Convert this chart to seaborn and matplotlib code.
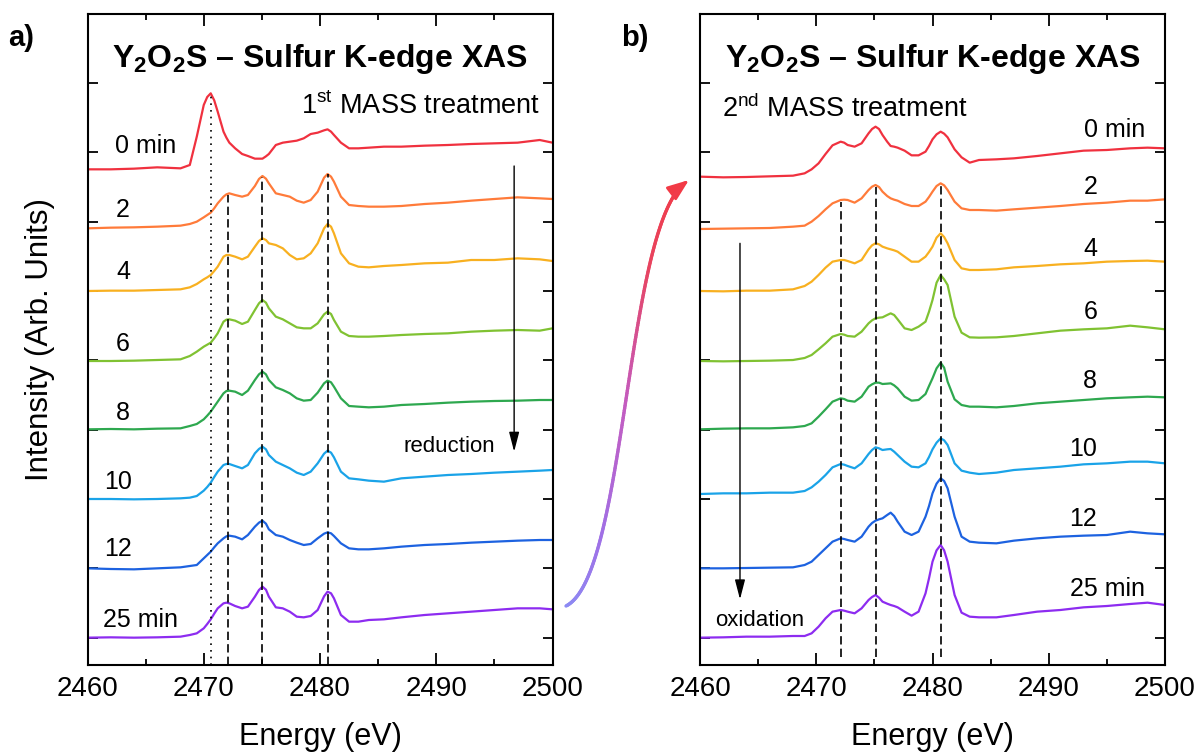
import numpy as np
import pandas as pd
import matplotlib
matplotlib.use("Agg")
import matplotlib.pyplot as plt
from matplotlib.collections import LineCollection
from matplotlib.colors import LinearSegmentedColormap
from matplotlib.patches import FancyArrowPatch
from matplotlib.ticker import MultipleLocator
import seaborn as sns

# ---------------------------------------------------------------------------
# Sulfur K-edge XAS of Y2O2S, stacked spectra (arb. units, offset per scan)
# ---------------------------------------------------------------------------
times = ["0 min", "2", "4", "6", "8", "10", "12", "25 min"]
colors = ["#f0313f", "#ff7b3a", "#f8b020", "#80c232", "#2ea84f",
          "#1aa3e8", "#1d62e0", "#8d2cf0"]

# 1st MASS treatment
energy_a = [2460, 2462, 2464, 2466, 2468, 2468.8, 2469.4, 2470.0,
            2470.3, 2470.6, 2470.9, 2471.2, 2471.7, 2471.95, 2472.2, 2472.7,
            2473.3, 2473.8, 2474.4, 2474.75, 2475.05, 2475.35, 2475.6, 2476.2,
            2476.8, 2477.4, 2478.0, 2478.6, 2479.2, 2479.8, 2480.35, 2480.65,
            2480.95, 2481.2, 2481.8, 2482.5, 2483.3, 2484.2, 2485.5, 2487,
            2489, 2491, 2493, 2495, 2497, 2498.9, 2500]
a_0min = [14.05, 14.05, 14.07, 14.11, 14.08, 14.18, 15.03, 15.98,
          16.22, 16.33, 16.12, 15.78, 15.18, 15.00, 14.85, 14.68,
          14.51, 14.45, 14.37, 14.37, 14.37, 14.44, 14.51, 14.78,
          14.85, 14.88, 14.91, 14.98, 15.11, 15.15, 15.22, 15.25,
          15.18, 15.08, 14.85, 14.68, 14.68, 14.70, 14.73, 14.73,
          14.76, 14.78, 14.81, 14.83, 14.85, 14.93, 14.85]
a_2min = [12.28, 12.30, 12.31, 12.33, 12.36, 12.41, 12.48, 12.61,
          12.68, 12.75, 12.88, 13.03, 13.23, 13.30, 13.33, 13.28,
          13.23, 13.28, 13.55, 13.76, 13.85, 13.77, 13.63, 13.33,
          13.28, 13.23, 13.11, 13.05, 13.13, 13.38, 13.80, 13.91,
          13.83, 13.68, 13.23, 12.98, 12.95, 12.93, 12.93, 12.95,
          13.01, 13.05, 13.11, 13.16, 13.21, 13.18, 13.16]
a_4min = [10.40, 10.41, 10.41, 10.43, 10.45, 10.51, 10.61, 10.75,
          10.81, 10.88, 11.00, 11.13, 11.43, 11.48, 11.48, 11.43,
          11.35, 11.43, 11.73, 11.90, 11.98, 11.93, 11.83, 11.78,
          11.68, 11.48, 11.35, 11.38, 11.53, 11.83, 12.28, 12.41,
          12.33, 12.13, 11.53, 11.23, 11.13, 11.11, 11.15, 11.18,
          11.23, 11.25, 11.33, 11.33, 11.38, 11.35, 11.30]
a_6min = [8.30, 8.30, 8.31, 8.33, 8.35, 8.45, 8.58, 8.73,
          8.79, 8.85, 8.98, 9.13, 9.48, 9.54, 9.55, 9.51,
          9.41, 9.48, 9.83, 10.03, 10.13, 10.05, 9.88, 9.63,
          9.55, 9.43, 9.31, 9.28, 9.28, 9.43, 9.70, 9.78,
          9.71, 9.53, 9.18, 9.05, 9.03, 9.03, 9.05, 9.08,
          9.11, 9.13, 9.18, 9.21, 9.23, 9.21, 9.28]
a_8min = [6.25, 6.26, 6.25, 6.27, 6.28, 6.35, 6.41, 6.55,
          6.66, 6.78, 6.93, 7.08, 7.33, 7.40, 7.41, 7.38,
          7.28, 7.41, 7.73, 7.90, 7.98, 7.90, 7.73, 7.51,
          7.43, 7.33, 7.18, 7.11, 7.13, 7.35, 7.63, 7.71,
          7.66, 7.53, 7.18, 6.95, 6.93, 6.91, 6.93, 6.98,
          7.01, 7.05, 7.08, 7.10, 7.11, 7.13, 7.13]
a_10min = [4.16, 4.16, 4.15, 4.16, 4.18, 4.20, 4.25, 4.41,
           4.52, 4.65, 4.82, 4.98, 5.18, 5.21, 5.21, 5.15,
           5.08, 5.18, 5.53, 5.66, 5.73, 5.65, 5.48, 5.28,
           5.18, 5.08, 4.95, 4.88, 4.98, 5.23, 5.52, 5.61,
           5.55, 5.41, 4.98, 4.78, 4.75, 4.71, 4.68, 4.78,
           4.83, 4.88, 4.91, 4.95, 4.98, 5.01, 5.03]
a_12min = [2.08, 2.06, 2.05, 2.08, 2.11, 2.15, 2.18, 2.38,
           2.48, 2.58, 2.71, 2.83, 2.98, 3.04, 3.06, 3.03,
           2.95, 3.08, 3.33, 3.45, 3.51, 3.42, 3.25, 3.08,
           3.03, 2.93, 2.85, 2.78, 2.81, 2.98, 3.12, 3.16,
           3.13, 3.05, 2.83, 2.68, 2.65, 2.65, 2.68, 2.73,
           2.78, 2.81, 2.85, 2.88, 2.91, 2.93, 2.93]
a_25min = [0.00, 0.01, 0.00, 0.01, 0.03, 0.08, 0.13, 0.28,
           0.41, 0.55, 0.72, 0.88, 1.03, 1.05, 1.03, 0.95,
           0.88, 0.93, 1.23, 1.43, 1.53, 1.44, 1.23, 0.91,
           0.88, 0.78, 0.63, 0.61, 0.65, 0.83, 1.24, 1.38,
           1.33, 1.18, 0.68, 0.48, 0.48, 0.53, 0.55, 0.61,
           0.68, 0.73, 0.78, 0.83, 0.88, 0.88, 0.85]

# 2nd MASS treatment
energy_b = [2460, 2462, 2464, 2466, 2468, 2469, 2469.6, 2470.2,
            2470.8, 2471.4, 2472.1, 2472.4, 2472.7, 2473.3, 2473.9, 2474.5,
            2474.8, 2475.1, 2475.4, 2475.7, 2476.1, 2476.4, 2476.7, 2477.0,
            2477.6, 2478.2, 2478.8, 2479.4, 2479.7, 2480.0, 2480.35, 2480.7,
            2481.0, 2481.3, 2481.9, 2482.5, 2483.2, 2484, 2485.5, 2487,
            2489, 2491, 2493, 2495, 2497, 2498.5, 2500]
b_0min = [13.83, 13.81, 13.82, 13.84, 13.86, 13.93, 14.05, 14.23,
          14.51, 14.77, 14.88, 14.85, 14.78, 14.73, 14.83, 15.13,
          15.26, 15.33, 15.26, 15.08, 14.88, 14.75, 14.73, 14.70,
          14.61, 14.47, 14.47, 14.58, 14.75, 14.95, 15.10, 15.18,
          15.12, 15.01, 14.65, 14.41, 14.25, 14.33, 14.35, 14.38,
          14.45, 14.53, 14.61, 14.63, 14.68, 14.70, 14.68]
b_2min = [12.26, 12.27, 12.28, 12.29, 12.33, 12.36, 12.48, 12.65,
          12.85, 13.03, 13.13, 13.14, 13.13, 13.05, 13.18, 13.43,
          13.53, 13.58, 13.52, 13.38, 13.25, 13.18, 13.14, 13.11,
          13.01, 12.95, 12.95, 13.08, 13.22, 13.38, 13.55, 13.63,
          13.57, 13.43, 13.08, 12.88, 12.83, 12.83, 12.81, 12.85,
          12.90, 12.95, 13.01, 13.05, 13.11, 13.11, 13.15]
b_4min = [10.40, 10.39, 10.41, 10.41, 10.45, 10.55, 10.68, 10.88,
          11.10, 11.28, 11.33, 11.33, 11.30, 11.23, 11.33, 11.65,
          11.77, 11.83, 11.80, 11.73, 11.68, 11.65, 11.62, 11.58,
          11.43, 11.28, 11.28, 11.43, 11.57, 11.73, 12.00, 12.13,
          12.02, 11.83, 11.33, 11.08, 11.03, 11.03, 11.05, 11.11,
          11.15, 11.20, 11.23, 11.28, 11.30, 11.31, 11.28]
b_6min = [8.30, 8.29, 8.30, 8.31, 8.33, 8.39, 8.48, 8.65,
          8.83, 9.03, 9.11, 9.09, 9.05, 9.03, 9.18, 9.43,
          9.52, 9.58, 9.60, 9.61, 9.68, 9.73, 9.68, 9.55,
          9.28, 9.23, 9.33, 9.48, 9.78, 10.13, 10.65, 10.88,
          10.75, 10.58, 9.63, 9.15, 9.01, 9.00, 9.01, 9.05,
          9.13, 9.21, 9.25, 9.28, 9.36, 9.31, 9.25]
b_8min = [6.25, 6.27, 6.28, 6.28, 6.31, 6.35, 6.43, 6.63,
          6.85, 7.08, 7.18, 7.16, 7.11, 7.08, 7.23, 7.53,
          7.60, 7.65, 7.65, 7.61, 7.62, 7.63, 7.57, 7.48,
          7.23, 7.11, 7.13, 7.31, 7.55, 7.78, 8.08, 8.25,
          8.10, 7.68, 7.15, 6.98, 6.93, 6.93, 6.91, 6.95,
          7.03, 7.08, 7.13, 7.18, 7.21, 7.23, 7.21]
b_10min = [4.31, 4.33, 4.33, 4.35, 4.35, 4.40, 4.51, 4.68,
           4.88, 5.11, 5.21, 5.19, 5.15, 5.08, 5.23, 5.51,
           5.63, 5.71, 5.68, 5.63, 5.65, 5.66, 5.58, 5.48,
           5.28, 5.13, 5.11, 5.23, 5.42, 5.65, 5.85, 5.98,
           5.92, 5.78, 5.23, 5.01, 4.95, 4.91, 4.95, 5.03,
           5.08, 5.13, 5.20, 5.23, 5.28, 5.28, 5.23]
b_12min = [2.08, 2.08, 2.09, 2.10, 2.11, 2.18, 2.28, 2.48,
           2.68, 2.88, 2.98, 2.96, 2.93, 2.88, 3.03, 3.33,
           3.44, 3.51, 3.55, 3.58, 3.68, 3.75, 3.65, 3.48,
           3.18, 3.08, 3.18, 3.63, 3.95, 4.33, 4.62, 4.78,
           4.70, 4.48, 3.63, 3.03, 2.88, 2.85, 2.83, 2.91,
           2.98, 3.03, 3.06, 3.08, 3.18, 3.13, 3.10]
b_25min = [0.00, 0.01, 0.03, 0.03, 0.05, 0.05, 0.13, 0.33,
           0.58, 0.78, 0.83, 0.81, 0.78, 0.73, 0.88, 1.13,
           1.22, 1.28, 1.20, 1.08, 1.02, 0.98, 0.95, 0.91,
           0.78, 0.66, 0.78, 1.33, 1.78, 2.28, 2.62, 2.78,
           2.62, 2.28, 1.28, 0.75, 0.63, 0.61, 0.61, 0.68,
           0.78, 0.83, 0.91, 0.95, 1.01, 1.05, 0.98]

# feature energies (eV) marked by guide lines
edge_a = 2470.6
peaks_a = [2472.1, 2475.05, 2480.65]
peaks_b = [2472.1, 2475.1, 2480.7]


def long_frame(energy, curves):
    parts = [pd.DataFrame({"Energy": energy, "Intensity": vals, "Time": t})
             for t, vals in zip(times, curves)]
    return pd.concat(parts, ignore_index=True)


df_a = long_frame(energy_a, [a_0min, a_2min, a_4min, a_6min,
                             a_8min, a_10min, a_12min, a_25min])
df_b = long_frame(energy_b, [b_0min, b_2min, b_4min, b_6min,
                             b_8min, b_10min, b_12min, b_25min])

# ---------------------------------------------------------------------------
sns.set_style("ticks")
plt.rcParams.update({
    "font.family": ["Liberation Sans", "DejaVu Sans"],
    "mathtext.fontset": "custom",
    "mathtext.rm": "Liberation Sans",
    "mathtext.bf": "Liberation Sans:bold",
    "mathtext.it": "Liberation Sans:italic",
    "axes.edgecolor": "black",
    "axes.labelcolor": "black",
    "text.color": "black",
    "xtick.color": "black",
    "ytick.color": "black",
    "axes.linewidth": 1.5,
})

W, H = 1196, 755
fig = plt.figure(figsize=(W / 100, H / 100), dpi=100)
ax_a = fig.add_axes([87.5 / W, 90 / H, 465 / W, 651 / H])
ax_b = fig.add_axes([700 / W, 90 / H, 465 / W, 651 / H])

YLIM = (-0.82, 18.71)
TITLE = r"Y$_\mathbf{2}$O$_\mathbf{2}$S – Sulfur K-edge XAS"


def style_axis(ax):
    ax.set_xlim(2460, 2500)
    ax.set_ylim(*YLIM)
    ax.xaxis.set_major_locator(MultipleLocator(10))
    ax.xaxis.set_minor_locator(MultipleLocator(5))
    ax.set_yticks(np.arange(9) * 2.08)
    ax.tick_params(axis="x", which="major", direction="in", length=8.5,
                   width=1.3, top=True, bottom=True, labelsize=20, pad=8)
    ax.tick_params(axis="x", which="minor", direction="in", length=4.3,
                   width=1.3, top=True, bottom=True)
    ax.tick_params(axis="y", which="major", direction="in", length=7,
                   width=1.3, left=True, right=True, labelleft=False)
    for s in ax.spines.values():
        s.set_visible(True)
        s.set_linewidth(1.5)
        s.set_color("black")
    ax.set_xlabel("Energy (eV)", fontsize=22)
    ax.xaxis.set_label_coords(0.5, -0.087)
    ax.set_ylabel("")
    ax.text(2480, 17.13, TITLE, ha="center", va="baseline",
            fontsize=23, fontweight="bold")


for ax, df in ((ax_a, df_a), (ax_b, df_b)):
    sns.lineplot(data=df, x="Energy", y="Intensity", hue="Time",
                 hue_order=times, palette=colors, estimator=None, sort=False,
                 legend=False, linewidth=1.6, ax=ax)
    for ln in ax.get_lines():
        ln.set_solid_joinstyle("round")
    style_axis(ax)

ax_a.set_ylabel("Intensity (Arb. Units)", fontsize=22.5)
ax_a.yaxis.set_label_coords(-0.0708, 0.5)

dash = (0, (5, 2.5))
# panel a guide lines
ax_a.vlines(edge_a, YLIM[0], 16.28, colors="black", linestyles=(0, (1, 3)),
            linewidth=1.2, zorder=3)
ax_a.vlines(peaks_a, YLIM[0], [13.28, 13.83, 13.90], colors="black",
            linestyles=dash, linewidth=1.2, zorder=3)
# panel b guide lines
ax_b.vlines(peaks_b, -0.58, [13.08, 13.53, 13.64], colors="black",
            linestyles=dash, linewidth=1.2, zorder=3)

# scan labels
lab_a_x = [2462.37, 2462.45, 2462.45, 2462.45, 2462.45, 2461.42, 2461.42, 2461.3]
lab_a_y = [14.55, 12.61, 10.76, 8.61, 6.53, 4.45, 2.45, 0.33]
for t, x, y in zip(times, lab_a_x, lab_a_y):
    ax_a.text(x, y, t, ha="left", va="baseline", fontsize=18)

lab_b_x = [2498.31, 2494.18, 2494.18, 2494.18, 2494.18, 2494.18, 2494.18, 2498.31]
lab_b_y = [15.03, 13.31, 11.46, 9.56, 7.48, 5.45, 3.35, 1.25]
for t, x, y in zip(times, lab_b_x, lab_b_y):
    ax_b.text(x, y, t, ha="right", va="baseline", fontsize=18)

ax_a.text(2498.92, 15.70, r"1$^{\mathrm{st}}$ MASS treatment", ha="right",
          va="baseline", fontsize=19.5)
ax_b.text(2461.87, 15.63, r"2$^{\mathrm{nd}}$ MASS treatment", ha="left",
          va="baseline", fontsize=19.5)

arrow_kw = dict(arrowstyle="-|>,head_length=0.85,head_width=0.22",
                color="black", lw=1.0, mutation_scale=14,
                shrinkA=0, shrinkB=0)
ax_a.annotate("", xy=(2496.7, 5.58), xytext=(2496.7, 14.15), arrowprops=arrow_kw)
ax_a.text(2495.05, 5.58, "reduction", ha="right", va="baseline", fontsize=16)
ax_b.annotate("", xy=(2463.44, 1.15), xytext=(2463.44, 11.83), arrowprops=arrow_kw)
ax_b.text(2461.29, 0.35, "oxidation", ha="left", va="baseline", fontsize=16)

# panel letters
fig.text(8 / W, 1 - 46 / H, "a)", fontsize=21, fontweight="bold", va="baseline")
fig.text(621 / W, 1 - 46 / H, "b)", fontsize=21, fontweight="bold", va="baseline")

# connecting S-shaped arrow from the last scan of panel a to panel b
ctrl = np.array([[566, 606], [628, 575], [625, 215], [689, 180]], float)
s = np.linspace(0, 1, 240)[:, None]
curve = ((1 - s) ** 3 * ctrl[0] + 3 * (1 - s) ** 2 * s * ctrl[1]
         + 3 * (1 - s) * s ** 2 * ctrl[2] + s ** 3 * ctrl[3])
pts = np.column_stack([curve[:, 0] / W, 1 - curve[:, 1] / H])
segs = np.stack([pts[:-1], pts[1:]], axis=1)
fade = LinearSegmentedColormap.from_list(
    "fade", ["#8c8cf4", "#a070e6", "#c45cc0", "#e84460", "#f23a46"])
lc = LineCollection(segs[:-6], cmap=fade, linewidths=2.4,
                    transform=fig.transFigure, capstyle="round")
lc.set_array(np.linspace(0, 1, len(segs))[:-6])
fig.add_artist(lc)
head = FancyArrowPatch(pts[-10], pts[-1], transform=fig.transFigure,
                       arrowstyle="-|>,head_length=1.0,head_width=0.38",
                       mutation_scale=13, color="#f23a46", lw=2.0,
                       shrinkA=0, shrinkB=0)
fig.add_artist(head)

fig.savefig("out.png", dpi=100)
